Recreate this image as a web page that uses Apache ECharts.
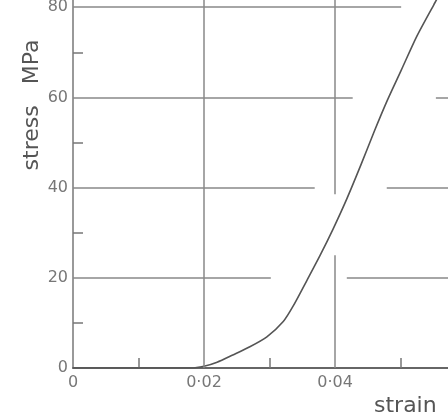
<!DOCTYPE html>
<html>
<head>
<meta charset="utf-8">
<script src="https://cdn.jsdelivr.net/npm/echarts@6/dist/echarts.min.js"></script>
<style>
  html, body { margin: 0; padding: 0; background: #fff; }
  #chart { width: 448px; height: 415px; }
</style>
</head>
<body>
<div id="chart"></div>
<script>
// axis extents (the scan is cut off at the right and at the top)
var X_MAX = 0.05725;
var Y_MAX = 81.6;

// curve
var strain = [0, 0.010, 0.018, 0.020, 0.0220, 0.0244, 0.0270, 0.0296, 0.0321, 0.0336, 0.0357,
  0.0377, 0.0397, 0.0418, 0.0440, 0.0460, 0.0480, 0.0501, 0.0525, 0.0551, 0.0573];
var stress = [0, 0, 0, 0.4, 1.3, 2.9, 4.7, 6.9, 10.3, 13.7, 19.4,
  24.9, 30.8, 37.5, 45.2, 52.5, 59.4, 66.0, 73.6, 80.6, 86.4];

// tick labels
var xLabelValues = [0, 0.02, 0.04];
var xLabelTexts = ["0", "0\u00b702", "0\u00b704"];
var xMinorTicks = [0.01, 0.03, 0.05];
var yLabelValues = [0, 20, 40, 60, 80];
var yLabelTexts = ["0", "20", "40", "60", "80"];
var yMinorTicks = [10, 30, 50, 70];

// grid lines, broken where the curve crosses them
var hGridY = [20, 20, 40, 40, 60, 60, 80];
var hGridFrom = [0, 0.0418, 0, 0.0479, 0, 0.0554, 0];
var hGridTo = [0.0302, X_MAX, 0.0369, X_MAX, 0.0427, X_MAX, 0.0501];
var vGridX = [0.02, 0.04, 0.04];
var vGridFrom = [0, 0, 38.5];
var vGridTo = [Y_MAX, 25, Y_MAX];

var chart = echarts.init(document.getElementById("chart"));

function lookup(values, texts, v) {
  for (var i = 0; i < values.length; i++) {
    if (Math.abs(values[i] - v) < 1e-6) return texts[i];
  }
  return "";
}

var curve = strain.map(function (x, i) { return [x, stress[i]]; });

var gridPieces = [];
hGridY.forEach(function (y, i) {
  gridPieces.push([{ coord: [hGridFrom[i], y] }, { coord: [hGridTo[i], y] }]);
});
vGridX.forEach(function (x, i) {
  gridPieces.push([{ coord: [x, vGridFrom[i]] }, { coord: [x, vGridTo[i]] }]);
});

var font = "DejaVu Sans";

var option = {
  animation: false,
  backgroundColor: "#fff",
  grid: { left: 73, right: 0, top: 0, bottom: 47, containLabel: false, outerBoundsMode: "none" },
  xAxis: {
    type: "value",
    min: 0,
    max: X_MAX,
    name: "strain",
    nameLocation: "end",
    nameGap: -74,
    nameTextStyle: {
      color: "#555", fontSize: 22, fontFamily: font,
      align: "left", verticalAlign: "top", padding: [27, 0, 0, 0]
    },
    axisLine: { show: true, lineStyle: { color: "#666", width: 2 } },
    axisTick: { show: true, inside: true, length: 10, customValues: xMinorTicks, lineStyle: { color: "#777", width: 1.5 } },
    splitLine: { show: false },
    axisLabel: {
      customValues: xLabelValues,
      margin: 7,
      color: "#777",
      fontSize: 16,
      fontFamily: font,
      formatter: function (v) { return lookup(xLabelValues, xLabelTexts, v); }
    }
  },
  yAxis: {
    type: "value",
    min: 0,
    max: Y_MAX,
    axisLine: { show: true, lineStyle: { color: "#777", width: 1.5 } },
    axisTick: { show: true, inside: true, length: 10, customValues: yMinorTicks, lineStyle: { color: "#777", width: 1.5 } },
    splitLine: { show: false },
    axisLabel: {
      customValues: yLabelValues,
      margin: 5,
      color: "#777",
      fontSize: 16,
      fontFamily: font,
      formatter: function (v) { return lookup(yLabelValues, yLabelTexts, v); }
    }
  },
  graphic: [
    {
      type: "text",
      x: 32,
      y: 105,
      rotation: Math.PI / 2,
      silent: true,
      style: {
        text: "stress   MPa",
        fill: "#555",
        fontSize: 22,
        fontFamily: font,
        align: "center",
        verticalAlign: "middle"
      }
    }
  ],
  series: [
    {
      type: "line",
      data: curve,
      showSymbol: false,
      smooth: 0.25,
      clip: true,
      lineStyle: { color: "#555", width: 1.6 },
      markLine: {
        silent: true,
        symbol: ["none", "none"],
        label: { show: false },
        lineStyle: { type: "solid", color: "#888", width: 1.5 },
        data: gridPieces
      }
    }
  ]
};

chart.setOption(option);
window.addEventListener("resize", function () { chart.resize(); });
</script>
</body>
</html>
